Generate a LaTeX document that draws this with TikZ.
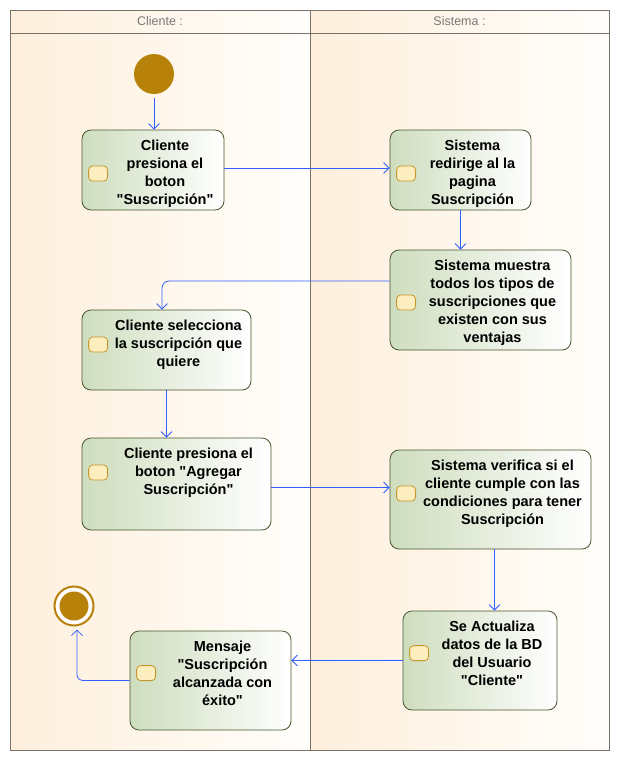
\documentclass[tikz,border=0pt]{standalone}
\usepackage{fontspec}
\setmainfont{Liberation Sans}[Ligatures=TeXOff]
\usetikzlibrary{positioning,arrows.meta}

\definecolor{laneorange}{RGB}{254,239,220}
\definecolor{lanewhite}{RGB}{255,254,251}
\definecolor{framegray}{RGB}{122,114,106}
\definecolor{headgray}{RGB}{120,120,120}
\definecolor{actgreen}{RGB}{206,221,190}
\definecolor{actborder}{RGB}{72,86,46}
\definecolor{iconfill}{RGB}{253,238,192}
\definecolor{iconborder}{RGB}{198,150,44}
\definecolor{flowblue}{RGB}{48,96,255}
\definecolor{nodegold}{RGB}{184,130,10}

\begin{document}
\begin{tikzpicture}[
    x=1pt, y=-1pt,
    >={Straight Barb[length=5.5pt,width=11pt]},
    every node/.style={font=\fontsize{14.5}{18}\selectfont\bfseries},
    act/.style={draw=actborder, line width=0.8pt, rounded corners=9pt,
        left color=actgreen, right color=white, inner sep=0pt},
    acttext/.style={align=center, inner sep=0pt, anchor=north},
    icon/.style={draw=iconborder, fill=iconfill, line width=0.8pt, rounded corners=4pt,
        minimum width=19pt, minimum height=15pt, inner sep=0pt},
    startdot/.style={circle, fill=nodegold, minimum size=40pt, inner sep=0pt, outer sep=4pt},
    endring/.style={circle, draw=nodegold, line width=2pt, fill=white, minimum size=39pt,
        inner sep=0pt, outer sep=4pt,
        path picture={\fill[nodegold] (path picture bounding box.center) circle (14.5pt);}},
    flow/.style={->, draw=flowblue, line width=0.8pt},
    lanehead/.style={font=\fontsize{12.5}{15}\selectfont, text=headgray},
    frame/.style={draw=framegray, line width=1pt}
]
\useasboundingbox (0,0) rectangle (620,761);

% Swimlanes
\shade[left color=laneorange, right color=lanewhite] (10,10) rectangle (310,750);
\shade[left color=laneorange, right color=lanewhite] (310,10) rectangle (609,750);
\draw[frame] (10,10) rectangle (609,750);
\draw[frame] (10,33) -- (609,33);
\draw[frame] (310,10) -- (310,750);
\node[lanehead] (hcli) at (160,21.5) {Cliente :};
\node[lanehead] (hsis) at (459.5,21.5) {Sistema :};

% Start
\node[startdot] (start) at (154,74) {};

% Cliente presiona el boton
\node[act, minimum width=142pt, minimum height=80pt] (n1) at (153,170) {};
\node[acttext, below=10pt of n1.north, xshift=12pt] (t1) {Cliente\\presiona el\\boton\\"Suscripción"};
\path (n1.west |- t1.center) ++(16.5pt,0pt) node[icon] (i1) {};

% Sistema redirige
\node[act, minimum width=141pt, minimum height=80pt] (n2) at (460.5,170) {};
\node[acttext, below=10pt of n2.north, xshift=12pt] (t2) {Sistema\\redirige al la\\pagina\\Suscripción};
\path (n2.west |- t2.center) ++(16.5pt,0pt) node[icon] (i2) {};

% Sistema muestra los tipos
\node[act, minimum width=181pt, minimum height=100pt] (n3) at (480.5,300) {};
\node[acttext, below=10pt of n3.north, xshift=12pt] (t3) {Sistema muestra\\todos los tipos de\\suscripciones que\\existen con sus\\ventajas};
\path (n3.west |- t3.center) ++(16.5pt,0pt) node[icon] (i3) {};

% Cliente selecciona
\node[act, minimum width=169pt, minimum height=80pt] (n4) at (166.5,350) {};
\node[acttext, below=10pt of n4.north, xshift=12pt] (t4) {Cliente selecciona\\la suscripción que\\quiere};
\path (n4.west |- t4.center) ++(16.5pt,0pt) node[icon] (i4) {};

% Cliente presiona Agregar
\node[act, minimum width=189pt, minimum height=92pt] (n5) at (176.5,484) {};
\node[acttext, below=10pt of n5.north, xshift=12pt] (t5) {Cliente presiona el\\boton "Agregar\\Suscripción"};
\path (n5.west |- t5.center) ++(16.5pt,0pt) node[icon] (i5) {};

% Sistema verifica
\node[act, minimum width=201pt, minimum height=99pt] (n6) at (490.5,499.5) {};
\node[acttext, below=10pt of n6.north, xshift=12pt] (t6) {Sistema verifica si el\\cliente cumple con las\\condiciones para tener\\Suscripción};
\path (n6.west |- t6.center) ++(16.5pt,0pt) node[icon] (i6) {};

% Se actualiza la BD
\node[act, minimum width=154pt, minimum height=99pt] (n7) at (480,660.5) {};
\node[acttext, below=10pt of n7.north, xshift=12pt] (t7) {Se Actualiza\\datos de la BD\\del Usuario\\"Cliente"};
\path (n7.west |- t7.center) ++(16.5pt,0pt) node[icon] (i7) {};

% Mensaje
\node[act, minimum width=161pt, minimum height=99pt] (n8) at (210.5,680.5) {};
\node[acttext, below=10pt of n8.north, xshift=12pt] (t8) {Mensaje\\"Suscripción\\alcanzada con\\éxito"};
\path (n8.west |- t8.center) ++(16.5pt,0pt) node[icon] (i8) {};

% End
\node[endring] (final) at (74,606) {};

% Flows
\draw[flow] (start) -- (start |- n1.north);
\draw[flow] ([yshift=2pt]n1.east) -- ([yshift=2pt]n2.west);
\draw[flow] (n2.south) -- (n2.south |- n3.north);
\draw[flow, rounded corners=7pt] ([yshift=19pt]n3.west) -| ([xshift=-4.5pt]n4.north);
\draw[flow] (n4.south) -- (n4.south |- n5.north);
\draw[flow] ([yshift=-3.5pt]n5.east) -- ([yshift=-3.5pt]n5.east -| n6.west);
\draw[flow] ([xshift=4pt]n6.south) -- ([xshift=4pt]n6.south |- n7.north);
\draw[flow] (n7.west) -- (n7.west -| n8.east);
\draw[flow, rounded corners=6pt] (n8.west) -| ([xshift=3pt]final.south);

\end{tikzpicture}
\end{document}
